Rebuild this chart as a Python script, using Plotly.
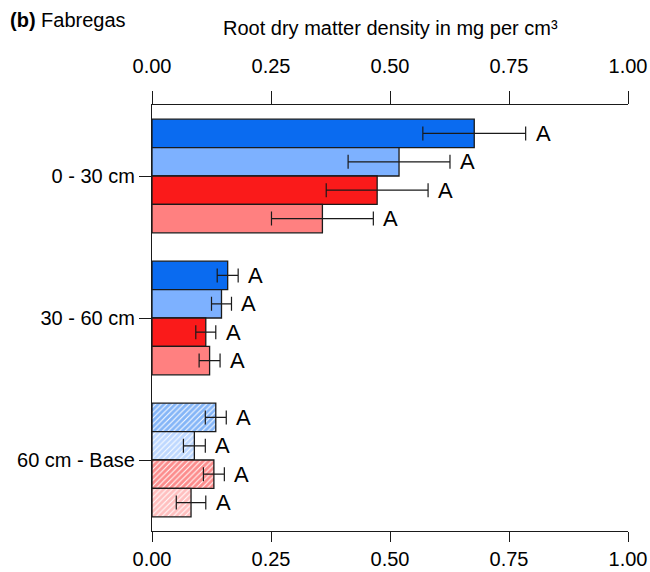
import plotly.graph_objects as go

# Soil layers (rows of the chart) and the four treatments drawn inside each layer
layers = ["0 - 30 cm", "30 - 60 cm", "60 cm - Base"]
treatments = ["T1", "T2", "T3", "T4"]

# Mean root dry matter density (mg per cm³) per treatment, one value per layer
mean_t1 = [0.677, 0.159, 0.134]
mean_t2 = [0.519, 0.146, 0.089]
mean_t3 = [0.473, 0.113, 0.130]
mean_t4 = [0.358, 0.121, 0.082]

# Standard errors
se_t1 = [0.108, 0.022, 0.022]
se_t2 = [0.107, 0.021, 0.023]
se_t3 = [0.107, 0.021, 0.022]
se_t4 = [0.107, 0.022, 0.031]

# Significance letters
letters_t1 = ["A", "A", "A"]
letters_t2 = ["A", "A", "A"]
letters_t3 = ["A", "A", "A"]
letters_t4 = ["A", "A", "A"]

# Deepest layer is drawn hatched
hatched = [False, False, True]

x_ticks = [0.0, 0.25, 0.5, 0.75, 1.0]

means = [mean_t1, mean_t2, mean_t3, mean_t4]
ses = [se_t1, se_t2, se_t3, se_t4]
letters = [letters_t1, letters_t2, letters_t3, letters_t4]
colors = ["#0A6BF0", "#7DB1FF", "#FA1A1A", "#FF8080"]

FONT = "Liberation Sans, Arial, sans-serif"
INK = "#1a1a1a"
BARGAP = 0.2

fig = go.Figure()
ypos = list(range(len(layers)))

for i, (name, m, s, col) in enumerate(zip(treatments, means, ses, colors)):
    fig.add_trace(go.Bar(
        name=name,
        orientation="h",
        x=m,
        y=ypos,
        marker=dict(
            color=col,
            line=dict(color=INK, width=1.3),
            pattern=dict(
                shape=["/" if h else "" for h in hatched],
                fgcolor=col,
                bgcolor="white",
                size=4,
                solidity=0.75,
            ),
        ),
        error_x=dict(type="data", array=s, symmetric=True,
                     color=INK, thickness=1.2, width=7),
        showlegend=False,
        hoverinfo="skip",
    ))

# letters placed just past the upper end of each error bar
n = len(treatments)
w = (1 - BARGAP) / n
annotations = []
for i in range(n):
    for g in range(len(layers)):
        yc = g - (1 - BARGAP) / 2 + w * (i + 0.5)
        annotations.append(dict(
            x=means[i][g] + ses[i][g], y=yc, xref="x", yref="y",
            text=letters[i][g], showarrow=False, xanchor="left",
            yanchor="middle", xshift=8,
            font=dict(family=FONT, size=22, color="black"),
        ))

# invisible trace that carries the top axis
fig.add_trace(go.Scatter(x=x_ticks, y=[0] * len(x_ticks), xaxis="x2",
                         mode="markers", marker=dict(opacity=0),
                         showlegend=False, hoverinfo="skip"))

annotations.append(dict(
    text="Root dry matter density in mg per cm³",
    xref="paper", yref="paper", x=0.5, y=1.18,
    xanchor="center", yanchor="middle", showarrow=False,
    font=dict(family=FONT, size=20, color="black"),
))
annotations.append(dict(
    text="<b>(b)</b> Fabregas",
    xref="paper", yref="paper", x=-0.3025, y=1.2,
    xanchor="left", yanchor="middle", showarrow=False,
    font=dict(family=FONT, size=20, color="black"),
))

axis_common = dict(
    range=[0, 1], tickvals=x_ticks, tickformat=".2f", automargin=False,
    showgrid=False, zeroline=False, showline=True, linecolor=INK,
    linewidth=1.2, ticks="outside", tickcolor=INK, tickwidth=1.2,
    tickfont=dict(family=FONT, size=20, color="black"),
)

fig.update_layout(
    width=650, height=572,
    margin=dict(l=152, r=22, t=105, b=41),
    paper_bgcolor="white", plot_bgcolor="white",
    barmode="group", bargap=BARGAP, bargroupgap=0,
    xaxis=dict(**axis_common, ticklen=10, side="bottom"),
    xaxis2=dict(**axis_common, ticklen=13, side="top", overlaying="x",
                anchor="y", ticklabelstandoff=10),
    yaxis=dict(
        range=[len(layers) - 0.5, -0.5], tickvals=ypos, ticktext=layers,
        automargin=False,
        showgrid=False, zeroline=False, showline=True, linecolor=INK,
        linewidth=1.2, ticks="outside", ticklen=12, tickcolor=INK,
        tickwidth=1.2, tickfont=dict(family=FONT, size=20, color="black"),
    ),
    annotations=annotations,
    font=dict(family=FONT),
)

fig.write_html("out.html")
